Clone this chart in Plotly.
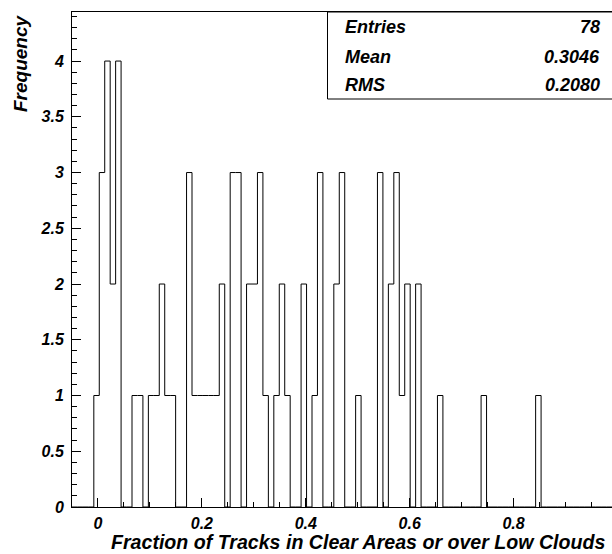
import numpy as np
import plotly.graph_objects as go

# Histogram binning (ROOT TH1: 100 bins from -0.05 to 1.0)
n_bins = 100
x_lo = -0.05
x_hi = 1.0

# Bin contents (index -> count)
filled_bins = [4, 5, 6, 7, 8, 11, 12, 14, 15, 16, 17, 18, 21, 22, 23, 24, 25, 26, 27,
               29, 30, 32, 33, 34, 35, 37, 38, 39, 42, 44, 45, 48, 49, 52, 56, 58, 59,
               60, 61, 63, 67, 75, 85]
filled_counts = [1, 3, 4, 2, 4, 1, 1, 1, 1, 2, 1, 1, 3, 1, 1, 1, 1, 1, 2,
                 3, 3, 2, 2, 3, 1, 1, 2, 1, 2, 1, 3, 2, 3, 1, 3, 2, 3,
                 1, 2, 2, 1, 1, 1]

x_ticks = [0, 0.2, 0.4, 0.6, 0.8]
y_ticks = [0, 0.5, 1, 1.5, 2, 2.5, 3, 3.5, 4]

stat_labels = ["Entries", "Mean", "RMS"]
stat_values = ["78", "0.3046", "0.2080"]

x_title = "Fraction of Tracks in Clear Areas or over Low Clouds"
y_title = "Frequency"

counts = np.zeros(n_bins)
for b, c in zip(filled_bins, filled_counts):
    counts[b] = c
edges = np.linspace(x_lo, x_hi, n_bins + 1)

xs = [edges[0]] + list(edges[:-1]) + [edges[-1]]
ys = [0] + list(counts) + [0]

W, H = 612, 554
L, R, T, B = 72, 0, 12, 47
pw = W - L - R
ph = H - T - B

def px(xp):
    return (xp - L) / pw

def py(yp):
    return (H - B - yp) / ph

font_fam = "Liberation Sans, Arial, Helvetica, sans-serif"
bi = dict(family=font_fam, color="black", weight="bold", style="italic")

fig = go.Figure()
fig.add_trace(go.Scatter(x=xs, y=ys, mode="lines", line=dict(color="black", width=1, shape="hv"),
                         hoverinfo="skip", showlegend=False))

fig.update_layout(
    width=W, height=H,
    margin=dict(l=L, r=R, t=T, b=B),
    paper_bgcolor="white", plot_bgcolor="white",
    showlegend=False,
    xaxis=dict(range=[x_lo, x_lo + (x_hi - x_lo) * 0.99],
               tickvals=x_ticks, ticktext=[f"{v:g}" for v in x_ticks],
               ticks="inside", ticklen=9, tickcolor="black", tickwidth=1,
               showline=True, linecolor="black", linewidth=1, mirror=True,
               showgrid=False, zeroline=False,
               minor=dict(dtick=0.05, tick0=0, ticks="inside", ticklen=5, tickcolor="black", showgrid=False),
               ticklabelstandoff=2,
               tickfont=dict(size=16, **bi)),
    yaxis=dict(range=[0, 4.44],
               tickvals=y_ticks, ticktext=[f"{v:g}" for v in y_ticks],
               ticks="inside", ticklen=9, tickcolor="black", tickwidth=1,
               showline=True, linecolor="black", linewidth=1, mirror=False,
               showgrid=False, zeroline=False,
               minor=dict(dtick=0.1, tick0=0, ticks="inside", ticklen=5, tickcolor="black", showgrid=False),
               ticklabelstandoff=4,
               tickfont=dict(size=16, **bi)),
)

# Axis titles
fig.add_annotation(text=x_title, xref="paper", yref="paper", x=px(606), y=py(553.5),
                   xanchor="right", yanchor="bottom", showarrow=False, borderpad=0,
                   font=dict(size=19.6, **bi))
fig.add_annotation(text=y_title, xref="paper", yref="paper", x=px(20), y=py(12),
                   xanchor="center", yanchor="top", textangle=-90, showarrow=False,
                   font=dict(size=19, **bi))

# Stats box
fig.add_shape(type="rect", xref="paper", yref="paper", x0=px(327.5), x1=px(640), y0=py(99), y1=py(12),
              line=dict(color="black", width=1), fillcolor="white", layer="above")
row_y = [27, 57, 85]
for lab, val, yy in zip(stat_labels, stat_values, row_y):
    fig.add_annotation(text=lab, xref="paper", yref="paper", x=px(343), y=py(yy),
                       xanchor="left", yanchor="middle", showarrow=False, font=dict(size=18, **bi))
    fig.add_annotation(text=val, xref="paper", yref="paper", x=px(602), y=py(yy),
                       xanchor="right", yanchor="middle", showarrow=False, font=dict(size=18, **bi))

fig.write_html("out.html", config={"displayModeBar": False},
               post_script="document.body.style.margin='0px';document.body.style.overflow='hidden';")
